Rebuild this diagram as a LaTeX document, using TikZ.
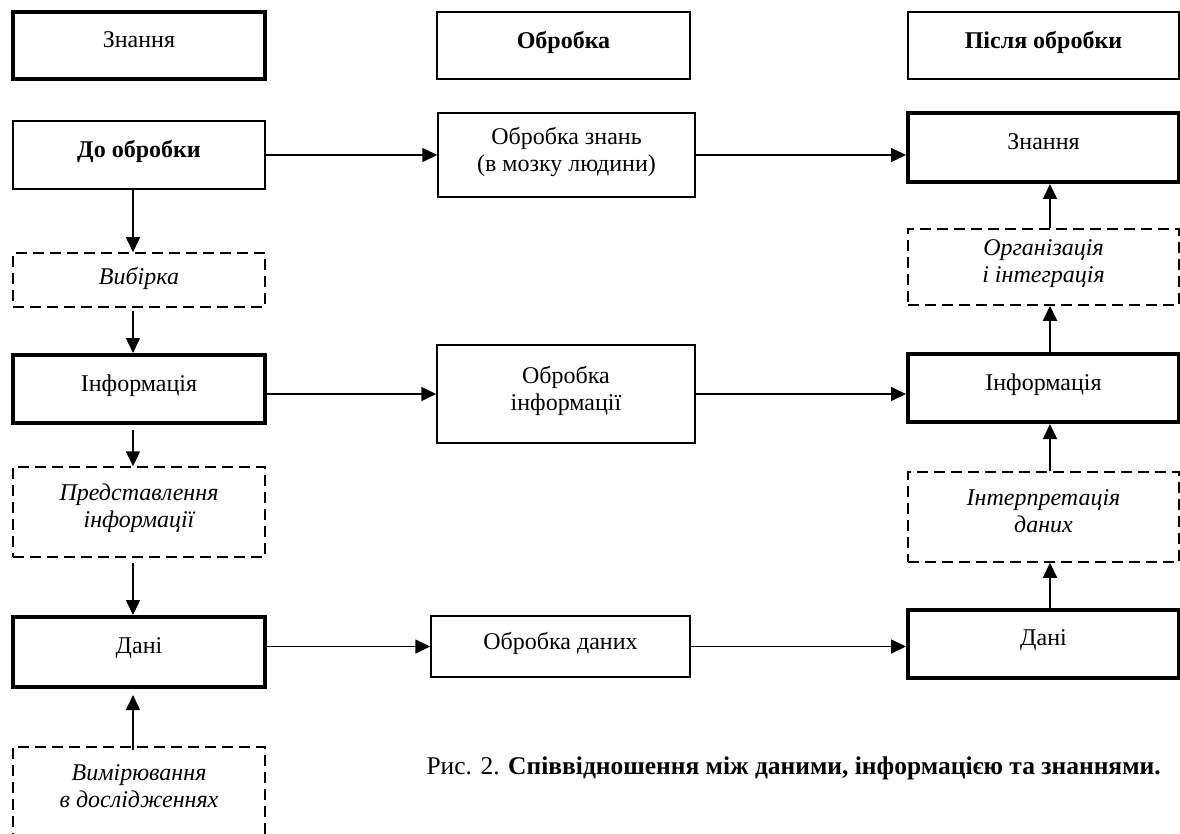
\documentclass[tikz,border=0pt]{standalone}
\usepackage{fontspec}
\setmainfont{Liberation Serif}
\usetikzlibrary{arrows.meta}
\usetikzlibrary{positioning}

\tikzset{
    box/.style={rectangle,draw,inner sep=2pt,align=center,text depth=12pt,
        font=\fontsize{24}{27}\selectfont},
    thinbox/.style={box,line width=1.5pt},
    thickbox/.style={box,line width=4pt},
    dashbox/.style={box,line width=1.5pt,dash pattern=on 11pt off 6pt,
        font=\fontsize{24}{27}\selectfont\itshape},
}

\begin{document}
\begin{tikzpicture}[x=1pt,y=-1pt]

        \clip (0,0) rectangle (1180,834);

        % left column
        \begin{scope}[every node/.append style={minimum width=252pt}]
            \node[thickbox,minimum height=67pt] (knL) at (139,45.5) {Знання};
            \node[thinbox,minimum height=68pt] (before) at (139,155) {\textbf{До обробки}};
            \node[dashbox,minimum height=54pt,text depth=8pt] (sel) at (139,280) {Вибірка};
            \node[thickbox,minimum height=68pt] (infL) at (139,389) {Інформація};
            \node[dashbox,minimum height=90pt] (repr) at (139,512) {Представлення\\інформації};
            \node[thickbox,minimum height=70pt] (datL) at (139,652) {Дані};
            \node[dashbox,minimum height=90pt] (meas) at (139,792) {Вимірювання\\в дослідженнях};
        \end{scope}

        % middle column
        \begin{scope}[every node/.append style={thinbox}]
            \node[minimum width=253pt,minimum height=67pt] (proc) at (563.5,45.5) {\textbf{Обробка}};
            \node[minimum width=257pt,minimum height=84pt] (pk) at (566.5,155) {Обробка знань\\(в мозку людини)};
            \node[minimum width=258pt,minimum height=98pt] (pi) at (566,394) {Обробка\\інформації};
            \node[minimum width=259pt,minimum height=61pt] (pd) at (560.5,646.5) {Обробка даних};
        \end{scope}

        % right column
        \begin{scope}[every node/.append style={minimum width=271pt}]
            \node[thinbox,minimum height=67pt] (after) at (1043.5,45.5) {\textbf{Після обробки}};
            \node[thickbox,minimum height=69pt] (knR) at (1043.5,147.5) {Знання};
            \node[dashbox,minimum height=76pt] (org) at (1043.5,267) {Організація\\і інтеграція};
            \node[thickbox,minimum height=68pt] (infR) at (1043.5,388) {Інформація};
            \node[dashbox,minimum height=90pt] (interp) at (1043.5,517) {Інтерпретація\\даних};
            \node[thickbox,minimum height=68pt] (datR) at (1043.5,644) {Дані};
        \end{scope}

        \node[anchor=west,font=\fontsize{25.5}{28}\selectfont] (cap) at (423,768)
            {Рис. 2. \textbf{Співвідношення між даними, інформацією та знаннями.}};

        \begin{scope}[>={Triangle[length=15pt,width=14pt]},line width=1.6pt]
            % down the left column
            \path [->] ([xshift=-6pt]before.south) edge ([xshift=-6pt]sel.north);
            \path [->] ([xshift=-6pt]sel.south) edge[shorten <=3pt] ([xshift=-6pt]infL.north);
            \path [->] ([xshift=-6pt]infL.south) edge[shorten <=5pt] ([xshift=-6pt]repr.north);
            \path [->] ([xshift=-6pt]repr.south) edge[shorten <=5pt] ([xshift=-6pt]datL.north);
            \path [->] ([xshift=-6pt]meas.north) edge[shorten <=-4pt,shorten >=6pt] ([xshift=-6pt]datL.south);
            % across
            \path [->] (before.east |- pk) edge (pk);
            \path [->] (pk) edge (pk -| knR.west);
            \path [->] (infL.east |- pi) edge (pi);
            \path [->] (pi) edge (pi -| infR.west);
            \path [->] (datL.east |- pd) edge (pd);
            \path [->] (pd) edge (pd -| datR.west);
            % up the right column
            \path [->] ([xshift=6.5pt]datR.north) edge ([xshift=6.5pt]interp.south);
            \path [->] ([xshift=6.5pt]interp.north) edge ([xshift=6.5pt]infR.south);
            \path [->] ([xshift=6.5pt]infR.north) edge ([xshift=6.5pt]org.south);
            \path [->] ([xshift=6.5pt]org.north) edge ([xshift=6.5pt]knR.south);
        \end{scope}
    \end{tikzpicture}
\end{document}
